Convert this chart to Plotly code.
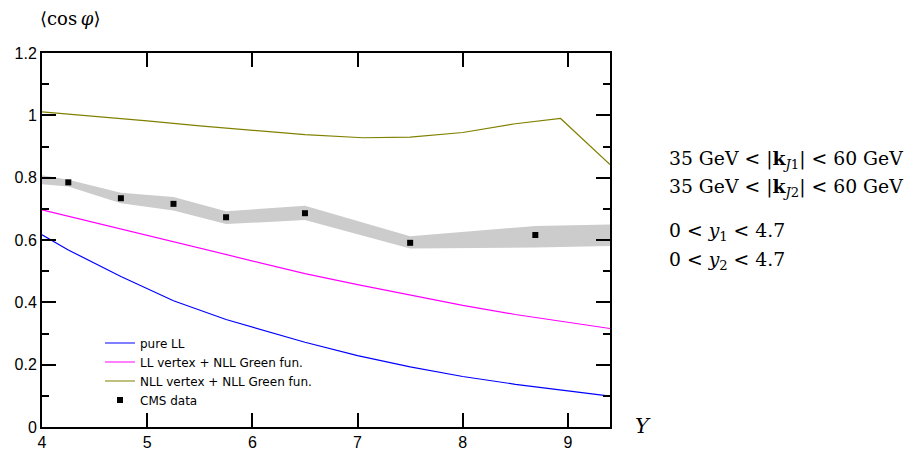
import plotly.graph_objects as go

# ---- data ----
x_ll = [4.0, 4.25, 4.75, 5.25, 5.75, 6.5, 7.0, 7.5, 8.0, 8.5, 9.0, 9.4]
y_ll = [0.617, 0.568, 0.483, 0.405, 0.345, 0.272, 0.229, 0.193, 0.162, 0.137, 0.116, 0.099]

x_llv = [4.0, 4.5, 5.0, 5.5, 6.0, 6.5, 7.0, 7.5, 8.0, 8.5, 9.0, 9.4]
y_llv = [0.697, 0.656, 0.615, 0.573, 0.531, 0.492, 0.457, 0.423, 0.390, 0.361, 0.335, 0.316]

x_nll = [4.0, 4.5, 5.0, 5.5, 6.0, 6.5, 7.05, 7.5, 8.0, 8.5, 8.93, 9.4]
y_nll = [1.011, 0.997, 0.982, 0.966, 0.952, 0.938, 0.928, 0.930, 0.945, 0.973, 0.990, 0.842]

x_cms = [4.25, 4.75, 5.25, 5.75, 6.5, 7.5, 8.69]
y_cms = [0.785, 0.734, 0.716, 0.673, 0.686, 0.591, 0.616]

x_band = [4.0, 4.25, 4.75, 5.25, 5.75, 6.5, 7.5, 8.69, 9.4]
band_hi = [0.808, 0.793, 0.752, 0.738, 0.692, 0.710, 0.612, 0.645, 0.650]
band_lo = [0.779, 0.772, 0.718, 0.695, 0.651, 0.664, 0.573, 0.576, 0.581]

x_ticks = [4, 5, 6, 7, 8, 9]
y_ticks = [0, 0.2, 0.4, 0.6, 0.8, 1, 1.2]
y_ticklabels = ["0", "0.2", "0.4", "0.6", "0.8", "1", "1.2"]

names = ["pure LL", "LL vertex + NLL Green fun.", "NLL vertex + NLL Green fun.", "CMS data"]

fig = go.Figure()

# error band
fig.add_trace(go.Scatter(x=x_band, y=band_lo, mode="lines", line=dict(width=0, color="#cccccc"),
                         showlegend=False, hoverinfo="skip"))
fig.add_trace(go.Scatter(x=x_band, y=band_hi, mode="lines", line=dict(width=0, color="#cccccc"),
                         fill="tonexty", fillcolor="#cccccc", showlegend=False, hoverinfo="skip"))

fig.add_trace(go.Scatter(x=x_ll, y=y_ll, mode="lines", name=names[0], line=dict(color="#0000ff", width=1.2)))
fig.add_trace(go.Scatter(x=x_llv, y=y_llv, mode="lines", name=names[1], line=dict(color="#ff00ff", width=1.2)))
fig.add_trace(go.Scatter(x=x_nll, y=y_nll, mode="lines", name=names[2], line=dict(color="#808000", width=1.2)))
fig.add_trace(go.Scatter(x=x_cms, y=y_cms, mode="markers", name=names[3],
                         marker=dict(symbol="square", size=6, color="black")))

axis_common = dict(showgrid=False, zeroline=False, showline=True, linecolor="black", linewidth=2,
                   mirror="allticks", ticks="inside", tickcolor="black", tickwidth=1.5,
                   automargin=False,
                   tickfont=dict(family="Liberation Sans, Arial, sans-serif", size=16, color="black"))

fig.update_xaxes(range=[4, 9.4], tickvals=x_ticks, ticklen=14, **axis_common)
fig.update_yaxes(range=[0, 1.2], tickvals=y_ticks, ticktext=y_ticklabels, ticklen=14,
                 minor=dict(ticks="inside", dtick=0.1, ticklen=7, tickcolor="black", tickwidth=1.5),
                 **axis_common)

W, H = 908, 451
L, R, T, B = 42, 298, 53, 24
pw, ph = W - L - R, H - T - B


def px_to_paper(px, py):
    return (px - L) / pw, (H - B - py) / ph


ann_font = dict(family="DejaVu Serif, serif", size=18.8, color="black")
texts = [
    (667, 159, "35 GeV &lt; |<b>k</b><sub><i>J</i>1</sub>| &lt; 60 GeV"),
    (667, 187, "35 GeV &lt; |<b>k</b><sub><i>J</i>2</sub>| &lt; 60 GeV"),
    (667, 232, "0 &lt; <i>y</i><sub>1</sub> &lt; 4.7"),
    (667, 261, "0 &lt; <i>y</i><sub>2</sub> &lt; 4.7"),
]
for px, py, t in texts:
    ax_, ay_ = px_to_paper(px, py)
    fig.add_annotation(x=ax_, y=ay_, xref="paper", yref="paper",
                       text=t, showarrow=False, xanchor="left", yanchor="middle", font=ann_font)

ax_, ay_ = px_to_paper(70, 18)
fig.add_annotation(x=ax_, y=ay_, xref="paper", yref="paper",
                   text="⟨cos\u2009<i>φ</i>⟩", showarrow=False, xanchor="center", yanchor="middle",
                   font=dict(family="DejaVu Serif, serif", size=18, color="black"))
ax_, ay_ = px_to_paper(633, 426)
fig.add_annotation(x=ax_, y=ay_, xref="paper", yref="paper",
                   text="<i>Y</i>", showarrow=False, xanchor="left", yanchor="middle",
                   font=dict(family="DejaVu Serif, serif", size=21, color="black"))

lx, ly = px_to_paper(100, 328.5)
fig.update_layout(
    width=W, height=H,
    margin=dict(l=L, r=R, t=T, b=B),
    plot_bgcolor="white", paper_bgcolor="white",
    legend=dict(x=lx, y=ly, xanchor="left", yanchor="top",
                traceorder="normal",
                bgcolor="rgba(0,0,0,0)", font=dict(family="DejaVu Sans, sans-serif", size=12, color="black"),
                tracegroupgap=0, itemwidth=30),
    showlegend=True,
)

fig.write_html("out.html", config={"displayModeBar": False},
               post_script="document.body.style.margin='0';document.body.style.overflow='hidden';")
